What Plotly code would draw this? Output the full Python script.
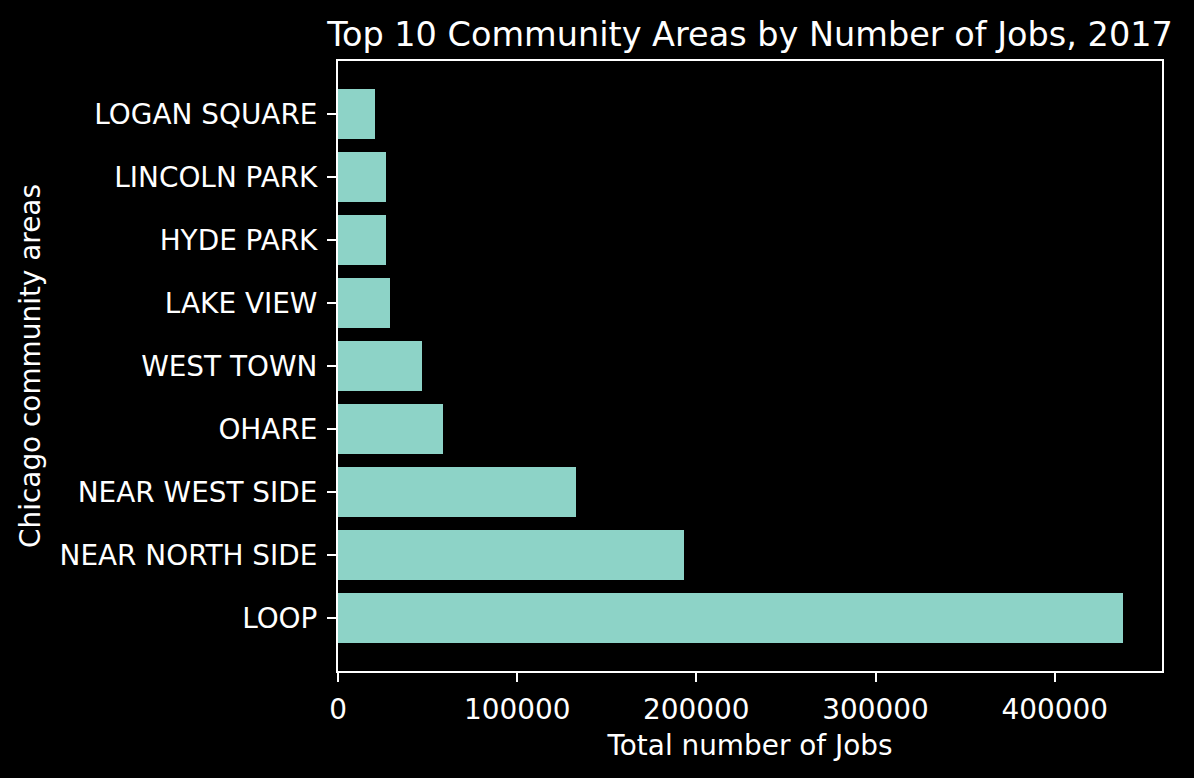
import plotly.graph_objects as go

areas = ["LOOP", "NEAR NORTH SIDE", "NEAR WEST SIDE", "OHARE", "WEST TOWN",
         "LAKE VIEW", "HYDE PARK", "LINCOLN PARK", "LOGAN SQUARE"]
jobs = [438000, 193000, 132700, 58500, 46800, 29000, 26700, 26800, 20600]
x_ticks = [0, 100000, 200000, 300000, 400000]

FONT = "DejaVu Sans"
TICK_PX = 27.9
fig = go.Figure(go.Bar(
    x=jobs, y=areas, orientation="h", width=0.8,
    marker=dict(color="#8dd3c7", line=dict(width=0)),
))

fig.update_layout(
    width=1194, height=778,
    paper_bgcolor="black", plot_bgcolor="black",
    margin=dict(l=338, r=32, t=61, b=107),
    font=dict(family=FONT, color="white", size=TICK_PX),
    title=dict(text="Top 10 Community Areas by Number of Jobs, 2017",
               x=(338 + 1162) / 2 / 1194, xanchor="center",
               y=1 - 34 / 778, yanchor="middle",
               font=dict(size=33.5, family=FONT, color="white")),
    showlegend=False,
    bargap=0,
)
fig.update_xaxes(
    range=[0, max(jobs) * 1.05], tickvals=x_ticks, tickformat="d",
    showgrid=False, zeroline=False,
    showline=True, linecolor="white", linewidth=2, mirror=True,
    ticks="outside", ticklen=9, tickwidth=2, tickcolor="white",
    ticklabelstandoff=4,
    tickfont=dict(size=TICK_PX, color="white"),
    title=dict(text="Total number of Jobs", font=dict(size=TICK_PX, color="white"), standoff=10),
)
fig.update_yaxes(
    type="category", categoryorder="array", categoryarray=areas,
    range=[-0.84, 8.84],
    showgrid=False, zeroline=False,
    showline=True, linecolor="white", linewidth=2, mirror=True,
    ticks="outside", ticklen=9, tickwidth=2, tickcolor="white",
    ticklabelstandoff=4,
    tickfont=dict(size=TICK_PX, color="white"),
    title=dict(text="Chicago community areas", font=dict(size=TICK_PX, color="white"), standoff=11),
)

fig.write_html("out.html")
